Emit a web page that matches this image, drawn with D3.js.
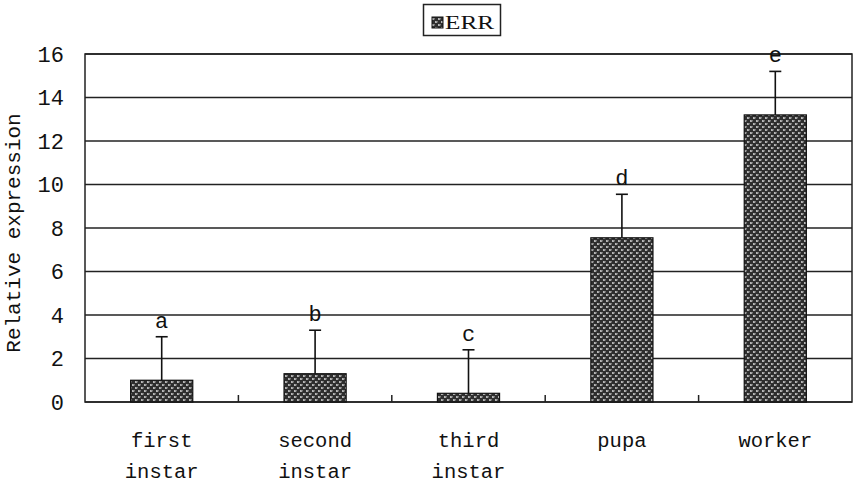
<!DOCTYPE html>
<html><head><meta charset="utf-8">
<script src="https://cdn.jsdelivr.net/npm/d3@7/dist/d3.min.js"></script>
<style>html,body{margin:0;padding:0;background:#fff;}svg{display:block;}</style>
</head><body>
<script>
const categories = [["first","instar"],["second","instar"],["third","instar"],["pupa"],["worker"]];
const values = [1.0, 1.3, 0.4, 7.55, 13.2];
const errors = [2.0, 2.0, 2.0, 2.0, 2.0];
const letters = ["a","b","c","d","e"];
const yTicks = [0,2,4,6,8,10,12,14,16];
const seriesName = "ERR";

const W = 856, H = 483;
const m = {left:85, right:4, top:54, bottom:81};
const svg = d3.select("body").append("svg").attr("width",W).attr("height",H);

const defs = svg.append("defs");
const pat = defs.append("pattern").attr("id","hatch").attr("patternUnits","userSpaceOnUse")
  .attr("width",6).attr("height",6);
pat.append("rect").attr("width",6).attr("height",6).attr("fill","#2e2e2e");
pat.append("rect").attr("x",0).attr("y",0).attr("width",2).attr("height",2).attr("fill","#b8b8b8");
pat.append("rect").attr("x",3).attr("y",3).attr("width",2).attr("height",2).attr("fill","#b8b8b8");
pat.append("rect").attr("x",1.5).attr("y",0).attr("width",1.5).attr("height",1.5).attr("fill","#777");
pat.append("rect").attr("x",4.5).attr("y",3).attr("width",1.5).attr("height",1.5).attr("fill","#777");

const x = d3.scaleBand().domain(d3.range(categories.length)).range([m.left, W-m.right]).paddingInner(0).paddingOuter(0);
const y = d3.scaleLinear().domain([0,16]).range([H-m.bottom, m.top]);
const mono = "'Liberation Mono', 'DejaVu Sans Mono', monospace";

// gridlines
svg.append("g").selectAll("line").data(yTicks).join("line")
  .attr("x1",m.left).attr("x2",W-m.right)
  .attr("y1",d=>y(d)).attr("y2",d=>y(d))
  .attr("stroke","#222").attr("stroke-width",1.5);

// border
svg.append("rect").attr("x",m.left).attr("y",m.top)
  .attr("width",W-m.right-m.left).attr("height",y(0)-m.top)
  .attr("fill","none").attr("stroke","#222").attr("stroke-width",1.5);

// y axis labels
const yAxis = d3.axisLeft(y).tickValues(yTicks).tickSize(0).tickPadding(21);
const ya = svg.append("g").attr("transform",`translate(${m.left},0)`).call(yAxis);
ya.select(".domain").remove();
ya.selectAll("text").attr("font-family",mono).attr("font-size",22).attr("fill","#111");

// category ticks (inside)
svg.append("g").selectAll("line").data(d3.range(1,categories.length)).join("line")
  .attr("x1",d=>x(d)).attr("x2",d=>x(d))
  .attr("y1",y(0)).attr("y2",y(0)-7)
  .attr("stroke","#222").attr("stroke-width",1.5);

// bars
const bw = x.bandwidth()*0.405;
svg.append("g").selectAll("rect").data(values).join("rect")
  .attr("x",(d,i)=>x(i)+x.bandwidth()/2-bw/2)
  .attr("y",d=>y(d)).attr("width",bw).attr("height",d=>y(0)-y(d))
  .attr("fill","url(#hatch)").attr("stroke","#111").attr("stroke-width",1.2);

// error bars
const eg = svg.append("g").attr("stroke","#111").attr("stroke-width",1.6);
values.forEach((v,i)=>{
  const cx = x(i)+x.bandwidth()/2;
  eg.append("line").attr("x1",cx).attr("x2",cx).attr("y1",y(v)).attr("y2",y(v+errors[i]));
  eg.append("line").attr("x1",cx-6).attr("x2",cx+6).attr("y1",y(v+errors[i])).attr("y2",y(v+errors[i]));
});

// letters
svg.append("g").selectAll("text").data(letters).join("text")
  .attr("x",(d,i)=>x(i)+x.bandwidth()/2)
  .attr("y",(d,i)=>y(values[i]+errors[i])-9)
  .attr("text-anchor","middle").attr("font-family",mono).attr("font-size",22).attr("fill","#111")
  .text(d=>d);

// category labels
const cl = svg.append("g");
categories.forEach((lines,i)=>{
  lines.forEach((t,j)=>{
    cl.append("text").attr("x",x(i)+x.bandwidth()/2).attr("y",447+j*31)
      .attr("text-anchor","middle").attr("font-family",mono).attr("font-size",20.5).attr("fill","#111")
      .text(t);
  });
});

// y title
svg.append("text").attr("transform",`translate(20,${(m.top+y(0))/2+5}) rotate(-90)`)
  .attr("text-anchor","middle").attr("font-family",mono).attr("font-size",21).attr("fill","#111")
  .text("Relative expression");

// legend
const lg = svg.append("g");
lg.append("rect").attr("x",423.5).attr("y",4.5).attr("width",77).attr("height",31)
  .attr("fill","#fff").attr("stroke","#222").attr("stroke-width",1.5);
lg.append("rect").attr("x",432).attr("y",17).attr("width",11).attr("height",11)
  .attr("fill","url(#hatch)").attr("stroke","#111").attr("stroke-width",1);
lg.append("text").attr("x",445).attr("y",29).attr("font-family","'Liberation Serif', serif")
  .attr("font-size",19).attr("fill","#111").attr("textLength",49).attr("lengthAdjust","spacingAndGlyphs")
  .text(seriesName);
</script>
</body></html>
